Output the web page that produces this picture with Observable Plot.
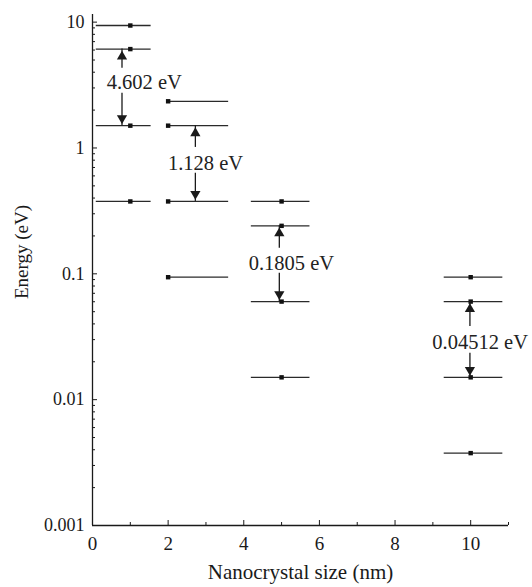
<!DOCTYPE html>
<html><head><meta charset="utf-8">
<script src="https://cdn.jsdelivr.net/npm/d3@7"></script>
<script src="https://cdn.jsdelivr.net/npm/@observablehq/plot@0.6"></script>
<style>body{margin:0;background:#fff}</style>
</head><body><div id="chart"></div>
<script>
// Nanocrystal sizes (nm) and their energy levels (eV)
const sizes = [1, 2, 5, 10];
const levelSize = [1, 1, 1, 1, 2, 2, 2, 2, 5, 5, 5, 5, 10, 10, 10, 10];
const levelEnergy = [9.4, 6.106, 1.504, 0.376, 2.35, 1.504, 0.376, 0.094, 0.376, 0.2406, 0.06016, 0.01504, 0.094, 0.06016, 0.01504, 0.00376];
const lineStart = [0.1, 2.0, 4.2, 9.3];
const lineEnd = [1.55, 3.6, 5.75, 10.85];
const markerX = [1.0, 2.0, 5.0, 10.0];
// gap annotations
const gapLabels = ["4.602 eV", "1.128 eV", "0.1805 eV", "0.04512 eV"];
const gapUpper = [6.106, 1.504, 0.2406, 0.06016];
const gapLower = [1.504, 0.376, 0.06016, 0.01504];
const arrowX = [0.78, 2.72, 4.94, 9.98];
const upTail = [4.3, 1.01, 0.16, 0.0382];
const downTail = [2.72, 0.63, 0.101, 0.0234];
const textX = [1.37, 2.99, 5.26, 10.25];
const textY = [3.33, 0.757, 0.122, 0.0287];
// ticks
const xTicks = [0, 2, 4, 6, 8, 10];
const yTicks = [0.001, 0.01, 0.1, 1, 10];

const xMinor = d3.range(0, 12).filter(v => !xTicks.includes(v));
const yMinor = [];
for (let e = -3; e <= 0; e++) for (let k = 2; k <= 9; k++) yMinor.push(+(k * Math.pow(10, e)).toPrecision(3));

const levels = levelSize.map((s, i) => ({size: s, energy: levelEnergy[i], g: sizes.indexOf(s)}));
const gaps = gapLabels.map((label, i) => ({
  label, upper: gapUpper[i], lower: gapLower[i], ax: arrowX[i],
  upTail: upTail[i], downTail: downTail[i], tx: textX[i], ty: textY[i]
}));

const ink = "#1a1a1a";
const chart = Plot.plot({
  width: 532, height: 587,
  marginLeft: 92, marginRight: 24, marginTop: 14, marginBottom: 62,
  style: {fontFamily: "'Liberation Serif', 'DejaVu Serif', serif", fontSize: "18px", color: ink, background: "#fff"},
  x: {domain: [0, 11]},
  y: {type: "log", domain: [0.001, 11.5]},
  marks: [
    Plot.axisX(xTicks, {tickSize: 0, tickPadding: 11, fontSize: 19, label: null}),
    Plot.text(["Nanocrystal size (nm)"], {frameAnchor: "bottom", dy: 53, fontSize: 21, fill: ink}),
    Plot.axisX(xTicks, {tickSize: -5, tickFormat: () => "", label: null, stroke: ink}),
    Plot.axisX(xMinor, {tickSize: -3, tickFormat: () => "", label: null, stroke: ink}),
    Plot.axisY(yTicks, {tickSize: 0, tickPadding: 8, fontSize: 18, tickFormat: d => String(d), label: null}),
    Plot.text(["Energy (eV)"], {frameAnchor: "left", textAnchor: "middle", dx: -71, dy: -18, rotate: -90, fontSize: 19, fill: ink}),
    Plot.axisY(yTicks, {tickSize: -5, tickFormat: () => "", label: null, stroke: ink}),
    Plot.axisY(yMinor, {tickSize: -3, tickFormat: () => "", label: null, stroke: ink}),
    Plot.ruleX([0], {stroke: ink, strokeWidth: 1.3}),
    Plot.ruleY([0.001], {stroke: ink, strokeWidth: 1.3}),
    Plot.ruleY(levels, {y: "energy", x1: d => lineStart[d.g], x2: d => lineEnd[d.g], stroke: "#2a2a2a", strokeWidth: 1.3}),
    Plot.dot(levels, {x: d => markerX[d.g], y: "energy", symbol: "square", r: 2.5, fill: "#111"}),
    Plot.ruleX(gaps, {x: "ax", y1: "upTail", y2: "upper", stroke: ink, strokeWidth: 1.3}),
    Plot.ruleX(gaps, {x: "ax", y1: "downTail", y2: "lower", stroke: ink, strokeWidth: 1.3}),
    Plot.dot(gaps, {x: "ax", y: "upper", symbol: "triangle", r: 3.8, fill: ink, dy: 7.5}),
    Plot.dot(gaps, {x: "ax", y: "lower", symbol: "triangle", r: 3.8, fill: ink, dy: -7.5, rotate: 180}),
    Plot.text(gaps, {x: "tx", y: "ty", text: "label", fontSize: 20.5, fill: "#222"})
  ]
});
document.getElementById("chart").append(chart);
</script>
</body></html>
